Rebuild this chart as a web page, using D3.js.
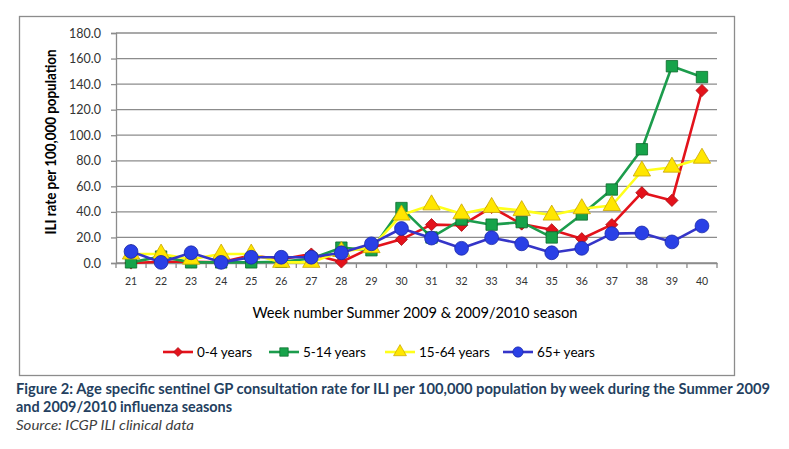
<!DOCTYPE html>
<html>
<head>
<meta charset="utf-8">
<script src="https://cdn.jsdelivr.net/npm/d3@7.9.0/dist/d3.min.js"></script>
<style>
  body { margin: 0; background: #fff; }
  svg { display: block; font-family: Lato, "Open Sans", sans-serif; }
</style>
</head>
<body>
<svg id="chart" width="789" height="449"></svg>
<script>
// weeks on the x axis
const weeks = ["21","22","23","24","25","26","27","28","29","30","31","32","33","34","35","36","37","38","39","40"];

// ILI rate per 100,000
const age0to4   = [0, 1, 1, 0.5, 6, 3, 7, 0.8, 12, 18.5, 30, 29.5, 43.5, 30.5, 26, 19, 30, 55, 49, 135];
const age5to14  = [0.5, 5, 0.5, 0.5, 0.5, 1, 3.5, 12, 10, 43, 20, 34, 30, 32, 20, 38, 57.5, 89, 154, 145.5];
const age15to64 = [7, 7, 3, 7, 7, 0.5, 0.5, 9, 12, 37.5, 45.5, 38.5, 43.5, 41, 37.5, 42.5, 45, 72, 75, 82];
const age65plus = [9, 0.5, 8, 0.5, 4.5, 4.5, 4.5, 8, 15, 27, 19.5, 11.5, 19.8, 15, 8, 11.5, 23, 23.5, 16.5, 29];

const seriesNames = ["0-4 years", "5-14 years", "15-64 years", "65+ years"];
const yTicks = d3.range(0, 181, 20);

const series = [
  { name: seriesNames[0], values: age0to4,   line: "#e3121b", fill: "#e3121b", stroke: "#a80c12", shape: d3.symbolDiamond2, size: 95 },
  { name: seriesNames[1], values: age5to14,  line: "#1c9c4c", fill: "#17a34a", stroke: "#0d6a2c", shape: d3.symbolSquare,  size: 130 },
  { name: seriesNames[2], values: age15to64, line: "#ffff1a", fill: "#ffe600", stroke: "#c9a400", shape: d3.symbolTriangle, size: 130 },
  { name: seriesNames[3], values: age65plus, line: "#3535c8", fill: "#2a40e6", stroke: "#1a28a8", shape: d3.symbolCircle,  size: 150 }
];

const svg = d3.select("#chart");

// outer chart frame
svg.append("rect")
  .attr("x", 19.5).attr("y", 16.5)
  .attr("width", 715).attr("height", 359)
  .attr("fill", "#fff")
  .attr("stroke", "#8c8c8c")
  .attr("stroke-width", 1.3);

const x = d3.scaleBand().domain(weeks).range([116, 717]);
const y = d3.scaleLinear().domain([0, 180]).range([263, 33]);

// horizontal gridlines
svg.append("g")
  .selectAll("line")
  .data(yTicks)
  .join("line")
  .attr("x1", 116).attr("x2", 717)
  .attr("y1", d => y(d)).attr("y2", d => y(d))
  .attr("stroke", "#8c8c8c")
  .attr("stroke-width", 1.3);

// y axis
const yAxis = svg.append("g")
  .attr("transform", "translate(116,0)")
  .call(d3.axisLeft(y).tickValues(yTicks).tickFormat(d3.format(".1f")).tickSize(5).tickPadding(10));
yAxis.select(".domain").attr("stroke", "#8c8c8c").attr("stroke-width", 1.3);
yAxis.selectAll(".tick line").attr("stroke", "#8c8c8c").attr("stroke-width", 1.3);
yAxis.selectAll(".tick text")
  .attr("font-family", "Lato, sans-serif")
  .attr("font-size", 12.5)
  .attr("fill", "#333");

// x axis, ticks sit on the band edges
const xAxis = svg.append("g")
  .attr("transform", "translate(0,263)")
  .call(d3.axisBottom(x).tickSize(0).tickPadding(15));
xAxis.select(".domain").attr("stroke", "#8c8c8c").attr("stroke-width", 1.3);
xAxis.selectAll(".tick text")
  .attr("font-family", "Lato, sans-serif")
  .attr("font-size", 10.5)
  .attr("fill", "#333");
xAxis.append("g")
  .selectAll("line")
  .data(weeks.concat(["end"]))
  .join("line")
  .attr("x1", d => d === "end" ? 717 : x(d))
  .attr("x2", d => d === "end" ? 717 : x(d))
  .attr("y1", 0).attr("y2", 5)
  .attr("stroke", "#8c8c8c")
  .attr("stroke-width", 1.3);

// axis titles
svg.append("text")
  .attr("transform", "translate(56,142) rotate(-90)")
  .attr("text-anchor", "middle")
  .attr("font-size", 14.5)
  .attr("font-weight", "bold")
  .attr("fill", "#000")
  .attr("textLength", 185)
  .attr("lengthAdjust", "spacingAndGlyphs")
  .text("ILI rate per 100,000 population");

svg.append("text")
  .attr("x", 415).attr("y", 318)
  .attr("text-anchor", "middle")
  .attr("font-size", 14.5)
  .attr("fill", "#000")
  .attr("textLength", 325)
  .attr("lengthAdjust", "spacingAndGlyphs")
  .text("Week number Summer 2009 & 2009/2010 season");

// lines and markers
const lineGen = d3.line()
  .x((d, i) => x(weeks[i]) + x.bandwidth() / 2)
  .y(d => y(d));

series.forEach(s => {
  svg.append("path")
    .datum(s.values)
    .attr("fill", "none")
    .attr("stroke", s.line)
    .attr("stroke-width", 2.6)
    .attr("stroke-linejoin", "round")
    .attr("d", lineGen);

  svg.append("g")
    .selectAll("path")
    .data(s.values)
    .join("path")
    .attr("transform", (d, i) => `translate(${x(weeks[i]) + x.bandwidth() / 2},${y(d)})`)
    .attr("d", d3.symbol().type(s.shape).size(s.size))
    .attr("fill", s.fill)
    .attr("stroke", s.stroke)
    .attr("stroke-width", 0.8);
});

// legend
const legendX = [163, 269, 385, 503];
const legend = svg.append("g");
series.forEach((s, i) => {
  const g = legend.append("g").attr("transform", `translate(${legendX[i]},352)`);
  g.append("line")
    .attr("x1", 0).attr("x2", 30)
    .attr("stroke", s.line)
    .attr("stroke-width", 2.6);
  g.append("path")
    .attr("transform", "translate(15,0)")
    .attr("d", d3.symbol().type(s.shape).size(s.size * 0.55))
    .attr("fill", s.fill)
    .attr("stroke", s.stroke)
    .attr("stroke-width", 0.7);
  g.append("text")
    .attr("x", 34).attr("y", 4.5)
    .attr("font-size", 13.5)
    .attr("fill", "#000")
    .text(s.name);
});

// caption below the chart
svg.append("text")
  .attr("x", 16).attr("y", 394)
  .attr("font-size", 14.5)
  .attr("font-weight", "bold")
  .attr("fill", "#243f60")
  .attr("textLength", 754)
  .attr("lengthAdjust", "spacingAndGlyphs")
  .text("Figure 2: Age specific sentinel GP consultation rate for ILI per 100,000 population by week during the Summer 2009");

svg.append("text")
  .attr("x", 16).attr("y", 412)
  .attr("font-size", 14.5)
  .attr("font-weight", "bold")
  .attr("fill", "#243f60")
  .attr("textLength", 216)
  .attr("lengthAdjust", "spacingAndGlyphs")
  .text("and 2009/2010 influenza seasons");

svg.append("text")
  .attr("x", 16).attr("y", 430)
  .attr("font-size", 14)
  .attr("font-style", "italic")
  .attr("fill", "#404040")
  .attr("textLength", 178)
  .attr("lengthAdjust", "spacingAndGlyphs")
  .text("Source: ICGP ILI clinical data");
</script>
</body>
</html>
